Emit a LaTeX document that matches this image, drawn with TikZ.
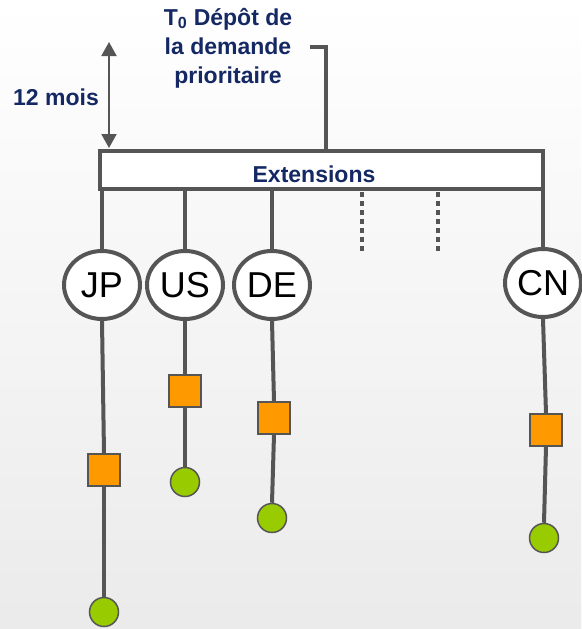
\documentclass[tikz,border=0pt]{standalone}
\usepackage{fontspec}
\setmainfont{Liberation Sans}
\usetikzlibrary{shapes.geometric,arrows.meta}
\definecolor{linegray}{HTML}{555555}
\definecolor{navy}{HTML}{142864}
\definecolor{orangefill}{HTML}{FF9900}
\definecolor{greenfill}{HTML}{99CC00}
\begin{document}
\begin{tikzpicture}[x=1pt,y=-1pt,
  conn/.style={draw=linegray,line width=4pt},
  country/.style={ellipse,draw=linegray,line width=4pt,fill=white,minimum width=76pt,minimum height=68pt,inner sep=0pt,font=\fontsize{36}{38}\selectfont,text=black},
  boxstyle/.style={rectangle,draw=linegray,line width=4pt,fill=white,minimum width=443pt,minimum height=38pt,inner sep=0pt},
  lbl/.style={text=navy,font=\bfseries\fontsize{23}{29}\selectfont,inner sep=0pt},
  sq/.style={rectangle,draw=linegray,line width=1.5pt,fill=orangefill,minimum size=32pt,inner sep=0pt},
  dot/.style={circle,draw=linegray,line width=1.5pt,fill=greenfill,minimum size=29pt,inner sep=0pt},
  dotted conn/.style={draw=linegray,line width=4pt,dash pattern=on 5pt off 4pt}
]
\useasboundingbox (0,0) rectangle (581,629);
\fill[top color=white,bottom color=gray!16] (0,0) rectangle (581,629);

% box
\node[boxstyle] (box) at (321.5,169.5) {};
\node[lbl] (ext) at (314,174) {Extensions};

% countries
\node[country] (jp) at (102,285) {JP};
\node[country] (us) at (185,285) {US};
\node[country] (de) at (272,285) {DE};
\node[country] (cn) at (543,283) {CN};

% squares
\node[sq] (jpsq) at (104,470) {};
\node[sq] (ussq) at (185,391) {};
\node[sq] (desq) at (274,418) {};
\node[sq] (cnsq) at (546,430) {};

% circles
\node[dot] (jpdot) at (104,612) {};
\node[dot] (usdot) at (185,482) {};
\node[dot] (dedot) at (272,518) {};
\node[dot] (cndot) at (544,538) {};

% connectors from box
\draw[conn] (box.south -| jp.north) -- (jp.north);
\draw[conn] (box.south -| us.north) -- (us.north);
\draw[conn] (box.south -| de.north) -- (de.north);
\draw[conn] (box.south -| cn.north) -- (cn.north);
\coordinate (d1a) at (362,192);
\coordinate (d1b) at (362,253);
\coordinate (d2a) at (438,192);
\coordinate (d2b) at (438,253);
\draw[dotted conn] (d1a) -- (d1b);
\draw[dotted conn] (d2a) -- (d2b);

% vertical chains
\draw[conn] (jp.south) -- (jpsq.north);
\draw[conn] (jpsq.south) -- (jpdot.north);
\draw[conn] (us.south) -- (ussq.north);
\draw[conn] (ussq.south) -- (usdot.north);
\draw[conn] (de.south) -- (desq.north);
\draw[conn] (desq.south) -- (dedot.north);
\draw[conn] (cn.south) -- (cnsq.north);
\draw[conn] (cnsq.south) -- (cndot.north);

% T0 bracket
\coordinate (tk) at (310,47);
\coordinate (tc) at (326,47);
\draw[conn,line cap=butt] (tk) -- (tc) -- (box.north -| tc);
\node[lbl,align=center] (t0) at (228,48) {T\textsubscript{0} Dépôt de\\la demande\\prioritaire};

% 12 mois arrow
\coordinate (a1) at (109,42);
\coordinate (a2) at (109,148);
\draw[draw=linegray,fill=linegray,line width=2pt,{Triangle[width=15pt,length=14pt]}-{Triangle[width=15pt,length=14pt]}] (a1) -- (a2);
\node[lbl] (mois) at (56,97) {12 mois};
\end{tikzpicture}
\end{document}
